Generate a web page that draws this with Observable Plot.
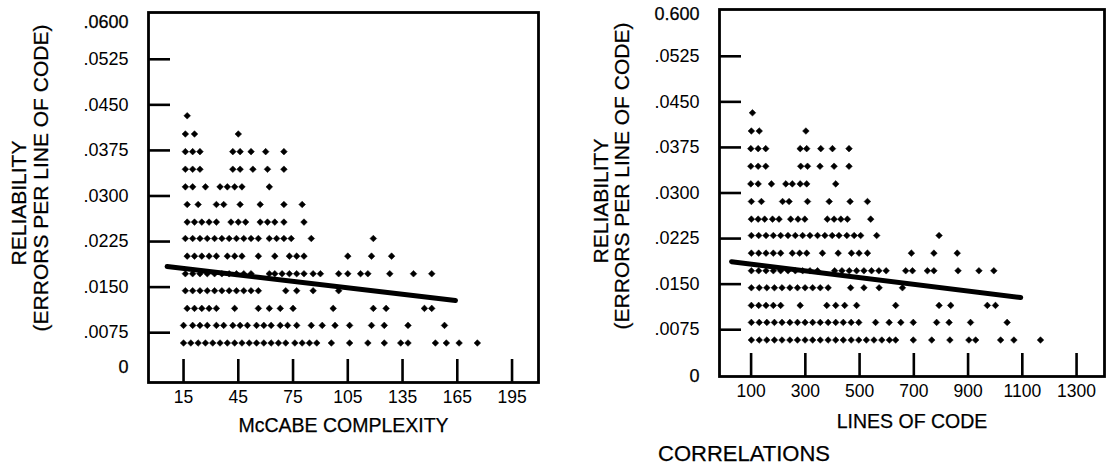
<!DOCTYPE html>
<html><head><meta charset="utf-8">
<script src="https://cdn.jsdelivr.net/npm/d3@7"></script>
<script src="https://cdn.jsdelivr.net/npm/@observablehq/plot@0.6"></script>
<style>
body{margin:0;background:#fff;}
#wrap{position:relative;width:1106px;height:470px;font-family:"Liberation Sans",Arial,Helvetica,sans-serif;color:#000;}
#left,#right{position:absolute;top:0;}
#left{left:0;} #right{left:553px;}
#caption{position:absolute;left:658px;top:441px;font-size:22px;-webkit-text-stroke:0.25px #000;}
</style></head><body>
<div id="wrap"><div id="left"></div><div id="right"></div><div id="caption">CORRELATIONS</div></div>
<script>
// error-rate levels of the rows of points (errors per line of code)
const yLevels = [0.0432, 0.0402, 0.0373, 0.0344, 0.0315, 0.0286, 0.0257, 0.0230, 0.0201, 0.0172, 0.0144, 0.0115, 0.0087, 0.0058];

// McCabe complexity of each module, one list per row (top to bottom)
const mccabeRows = [
  [17],
  [16, 21, 45],
  [16, 20, 24, 42, 46, 52, 60, 70],
  [16, 20, 24, 42, 46, 53, 61, 70],
  [16, 20, 27, 35, 39, 43, 47, 62],
  [17, 23, 33, 37, 46, 57, 70, 80],
  [17, 21, 25, 29, 33, 41, 45, 49, 57, 61, 65, 70, 81],
  [16, 20, 24, 28, 32, 36, 40, 44, 48, 52, 56, 62, 66, 70, 74, 85, 119],
  [17, 21, 25, 29, 33, 39, 43, 47, 56, 65, 73, 77, 81, 105, 118, 129],
  [16, 20, 24, 28, 32, 36, 40, 44, 48, 52, 62, 65, 69, 73, 77, 81, 86, 90, 100, 105, 112, 116, 128, 141, 151],
  [16, 20, 24, 28, 32, 36, 40, 44, 48, 52, 56, 71, 77, 86, 100],
  [17, 21, 25, 29, 33, 43, 56, 62, 68, 75, 97, 119, 126, 147, 151],
  [15, 20, 24, 28, 33, 37, 42, 46, 50, 55, 59, 63, 68, 72, 77, 85, 91, 98, 106, 118, 125, 138, 158],
  [15, 19, 23, 27, 31, 35, 39, 43, 47, 51, 55, 59, 63, 67, 71, 76, 80, 84, 88, 96, 106, 116, 125, 134, 138, 153, 159, 166, 176]
];

// lines of code of each module, one list per row (top to bottom)
const locRows = [
  [105],
  [101, 130, 302],
  [99, 126, 154, 281, 305, 357, 400, 461],
  [99, 126, 154, 283, 308, 354, 406, 461],
  [99, 126, 175, 228, 252, 281, 305, 412],
  [101, 138, 216, 240, 308, 388, 465, 529],
  [101, 126, 150, 179, 203, 246, 273, 298, 381, 406, 431, 455, 541],
  [101, 128, 155, 182, 209, 236, 263, 290, 317, 345, 372, 399, 424, 453, 480, 504, 563, 793],
  [101, 128, 155, 182, 209, 252, 279, 305, 363, 421, 470, 498, 529, 691, 774, 860],
  [101, 128, 155, 182, 209, 236, 263, 290, 317, 345, 408, 435, 462, 489, 516, 544, 571, 598, 670, 695, 750, 774, 863, 940, 995],
  [101, 130, 158, 186, 214, 243, 271, 299, 327, 355, 384, 467, 516, 572, 658],
  [101, 128, 155, 182, 209, 281, 379, 412, 445, 489, 633, 793, 836, 971, 1001],
  [101, 130, 158, 186, 214, 243, 271, 299, 327, 355, 384, 412, 440, 469, 497, 559, 609, 652, 698, 784, 830, 909, 1044],
  [101, 130, 158, 186, 214, 243, 271, 299, 327, 355, 384, 412, 440, 469, 497, 525, 553, 582, 610, 633, 698, 766, 833, 903, 928, 1020, 1069, 1167]
];

// fitted regression lines (end points)
const mccabeFitX = [6, 164];
const mccabeFitY = [0.0184, 0.0128];
const locFitX = [28, 1094];
const locFitY = [0.0187, 0.0128];

// axes
const yTickValues = [0.0075, 0.0150, 0.0225, 0.0300, 0.0375, 0.0450, 0.0525];
const yTickLabels = [".0075", ".0150", ".0225", ".0300", ".0375", ".0450", ".0525"];
const yEndValues = [0, 0.06];
const leftEndLabels = ["0", ".0600"];
const rightEndLabels = ["0", "0.600"];
const mccabeTicks = [15, 45, 75, 105, 135, 165, 195];
const locTicks = [100, 300, 500, 700, 900, 1100, 1300];
const yTitle1 = "RELIABILITY";
const yTitle2 = "(ERRORS PER LINE OF CODE)";

const FONT = '"Liberation Sans", Arial, Helvetica, sans-serif';
const yLabelMap = new Map(yTickValues.map((v, i) => [v, yTickLabels[i]]));
const INK = {fill: "black", stroke: "black", strokeWidth: 0.25};

function toPoints(rows) {
  return rows.flatMap((xs, i) => xs.map(x => ({x, y: yLevels[i]})));
}
function toFit(xs, ys) {
  return xs.map((x, i) => ({x, y: ys[i]}));
}

function panel(o) {
  const W = 553, H = 440;
  const innerW = W - o.mL - o.mR, innerH = H - o.mT - o.mB;
  const ends = yEndValues.map((v, i) => ({y: v, t: o.endLabels[i]}));
  return Plot.plot({
    width: W, height: H,
    marginLeft: o.mL, marginRight: o.mR, marginTop: o.mT, marginBottom: o.mB,
    style: {fontFamily: FONT, color: "black", background: "white", overflow: "visible"},
    x: {domain: o.xDomain, label: null},
    y: {domain: o.yDomain, label: null},
    marks: [
      Plot.ruleY(yTickValues, {stroke: "black", strokeWidth: 2.6, insetRight: innerW - 22}),
      Plot.ruleX(o.xTicks, {stroke: "black", strokeWidth: 2.6, insetTop: innerH - 23}),
      Plot.axisY(yTickValues, {tickSize: 0, tickPadding: 20, fontSize: 18, tickFormat: d => yLabelMap.get(d), label: null, ...INK}),
      Plot.text(ends.slice(0, 1), {y: "y", text: "t", frameAnchor: "left", textAnchor: "end", dx: -20, dy: o.end0dy, fontSize: 18, ...INK}),
      Plot.text(ends.slice(1), {y: "y", text: "t", frameAnchor: "left", textAnchor: "end", dx: -20, dy: o.end1dy, fontSize: 18, ...INK}),
      Plot.axisX(o.xTicks, {tickSize: 0, tickPadding: 8, fontSize: 17.5, tickFormat: d => String(d), label: null, ...INK}),
      Plot.text([o.xLabel], {text: d => d, frameAnchor: "bottom", textAnchor: "middle", dy: o.xLabelDy, lineAnchor: "middle", fontSize: 19.5, ...INK}),
      Plot.text([yTitle1], {text: d => d, frameAnchor: "left", textAnchor: "middle", rotate: -90, dx: o.t1dx, dy: o.t1dy, lineAnchor: "middle", fontSize: 21, ...INK}),
      Plot.text([yTitle2], {text: d => d, frameAnchor: "left", textAnchor: "middle", rotate: -90, dx: o.t2dx, dy: o.t2dy, lineAnchor: "middle", fontSize: 21, ...INK}),
      Plot.dot(o.points, {x: "x", y: "y", symbol: "diamond2", r: 3.0, fill: "black", stroke: "black", strokeWidth: 0.5}),
      Plot.line(o.fit, {x: "x", y: "y", stroke: "black", strokeWidth: 5}),
      Plot.frame({stroke: "black", strokeWidth: 2.8})
    ]
  });
}

document.getElementById("left").append(panel({
  mL: 148, mR: 15, mT: 12, mB: 58,
  xDomain: [-4.2, 209.5], yDomain: [-0.0007, 0.0602],
  xTicks: mccabeTicks, xLabel: "McCABE COMPLEXITY", xLabelDy: 43,
  endLabels: leftEndLabels, end0dy: -11, end1dy: 9,
  t1dx: -129.5, t1dy: 5.5, t2dx: -107.5, t2dy: -19.5,
  points: toPoints(mccabeRows), fit: toFit(mccabeFitX, mccabeFitY)
}));

document.getElementById("right").append(panel({
  mL: 166, mR: 2, mT: 9, mB: 64,
  xDomain: [-16.5, 1403], yDomain: [-0.0002, 0.0602],
  xTicks: locTicks, xLabel: "LINES OF CODE", xLabelDy: 45,
  endLabels: rightEndLabels, end0dy: 1, end1dy: 3.5,
  t1dx: -118, t1dy: 8, t2dx: -97, t2dy: -17,
  points: toPoints(locRows), fit: toFit(locFitX, locFitY)
}));
</script>
</body></html>
